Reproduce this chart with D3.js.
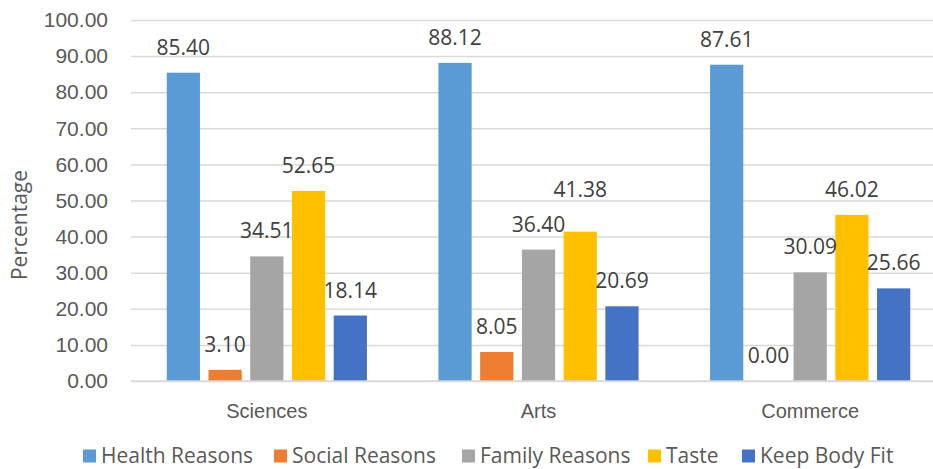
<!DOCTYPE html>
<html>
<head>
<meta charset="utf-8">
<script src="https://cdn.jsdelivr.net/npm/d3@7"></script>
<style>
  html, body { margin: 0; padding: 0; background: #fff; }
  svg { display: block; font-family: "Open Sans", "Liberation Sans", sans-serif; }
</style>
</head>
<body>
<svg id="chart" width="933" height="469"></svg>
<script>
// Reasons for food choice by stream of study (percentage of students)
const categories = ["Sciences", "Arts", "Commerce"];
const seriesNames = ["Health Reasons", "Social Reasons", "Family Reasons", "Taste", "Keep Body Fit"];
const healthReasons = [85.40, 88.12, 87.61];
const socialReasons = [3.10, 8.05, 0.00];
const familyReasons = [34.51, 36.40, 30.09];
const taste = [52.65, 41.38, 46.02];
const keepBodyFit = [18.14, 20.69, 25.66];
const yTicks = [0, 10, 20, 30, 40, 50, 60, 70, 80, 90, 100];
const colors = ["#5B9BD5", "#ED7D31", "#A5A5A5", "#FFC000", "#4472C4"];

const seriesValues = [healthReasons, socialReasons, familyReasons, taste, keepBodyFit];
const rows = categories.map((c, i) => ({
  category: c,
  values: seriesNames.map((s, j) => ({ series: s, value: seriesValues[j][i] }))
}));

const svg = d3.select("#chart");
const plot = { left: 131, right: 946, top: 20, bottom: 381 };

const y = d3.scaleLinear().domain([0, 100]).range([plot.bottom, plot.top]);
const x0 = d3.scaleBand().domain(categories).range([plot.left, plot.right]).padding(0);
const groupPad = 35.75;
const x1 = d3.scaleBand().domain(seriesNames)
  .range([groupPad, x0.bandwidth() - groupPad])
  .paddingInner(0.204).paddingOuter(0);
const color = d3.scaleOrdinal().domain(seriesNames).range(colors);

// Horizontal gridlines and value ticks
const yAxis = d3.axisLeft(y).tickValues(yTicks).tickFormat(d3.format(".2f"))
  .tickSize(-(933 - plot.left)).tickPadding(23);
const gy = svg.append("g").attr("transform", `translate(${plot.left},0)`).call(yAxis);
gy.select(".domain").remove();
gy.selectAll(".tick line").attr("stroke", "#d9d9d9").attr("stroke-width", 1.5);
gy.selectAll(".tick text")
  .attr("fill", "#595959").style("font-size", "21px");

// Bars
const groups = svg.append("g").selectAll("g").data(rows).join("g")
  .attr("transform", d => `translate(${x0(d.category)},0)`);

groups.selectAll("rect").data(d => d.values).join("rect")
  .attr("x", d => x1(d.series))
  .attr("width", x1.bandwidth())
  .attr("y", d => y(d.value))
  .attr("height", d => y(0) - y(d.value))
  .attr("fill", d => color(d.series));

// Value labels: sit above each bar; a label that would collide with
// its left neighbour is lifted clear of it.
const labelGap = 18, labelW = 54, labelH = 20, liftStep = 35;
groups.each(function (d) {
  let prev = null;
  d.values.forEach(v => {
    const cx = x1(v.series) + x1.bandwidth() / 2;
    let base = y(v.value) - labelGap;
    if (prev && Math.abs(cx - prev.cx) < labelW && Math.abs(base - prev.base) < labelH) {
      base = prev.base - liftStep;
    }
    v.labelX = cx;
    v.labelY = base;
    prev = { cx, base };
  });
});

groups.selectAll("text.value").data(d => d.values).join("text")
  .attr("class", "value")
  .attr("x", d => d.labelX)
  .attr("y", d => d.labelY)
  .attr("text-anchor", "middle")
  .attr("fill", "#404040")
  .style("font-size", "21px")
  .text(d => d3.format(".2f")(d.value));

// Baseline redrawn over bars
svg.append("line")
  .attr("x1", plot.left).attr("x2", 933)
  .attr("y1", y(0)).attr("y2", y(0))
  .attr("stroke", "#d9d9d9").attr("stroke-width", 1.5);

// Category axis labels
const xAxis = d3.axisBottom(x0).tickSize(0).tickPadding(23);
const gx = svg.append("g").attr("transform", `translate(0,${plot.bottom})`).call(xAxis);
gx.select(".domain").remove();
gx.selectAll(".tick text").attr("fill", "#595959").style("font-size", "20px");

// Y axis title
svg.append("text")
  .attr("transform", "translate(27,225) rotate(-90)")
  .attr("text-anchor", "middle")
  .attr("fill", "#595959")
  .style("font-size", "21px")
  .text("Percentage");

// Legend
const legendX = [83, 274, 462, 648, 742];
const legend = svg.append("g").selectAll("g").data(seriesNames).join("g")
  .attr("transform", (d, i) => `translate(${legendX[i]},456)`);
legend.append("rect")
  .attr("x", 0).attr("y", -6.5).attr("width", 13).attr("height", 13)
  .attr("fill", d => color(d));
legend.append("text")
  .attr("x", 18).attr("y", 0).attr("dy", "0.35em")
  .attr("fill", "#595959")
  .style("font-size", "21px")
  .text(d => d);
</script>
</body>
</html>
